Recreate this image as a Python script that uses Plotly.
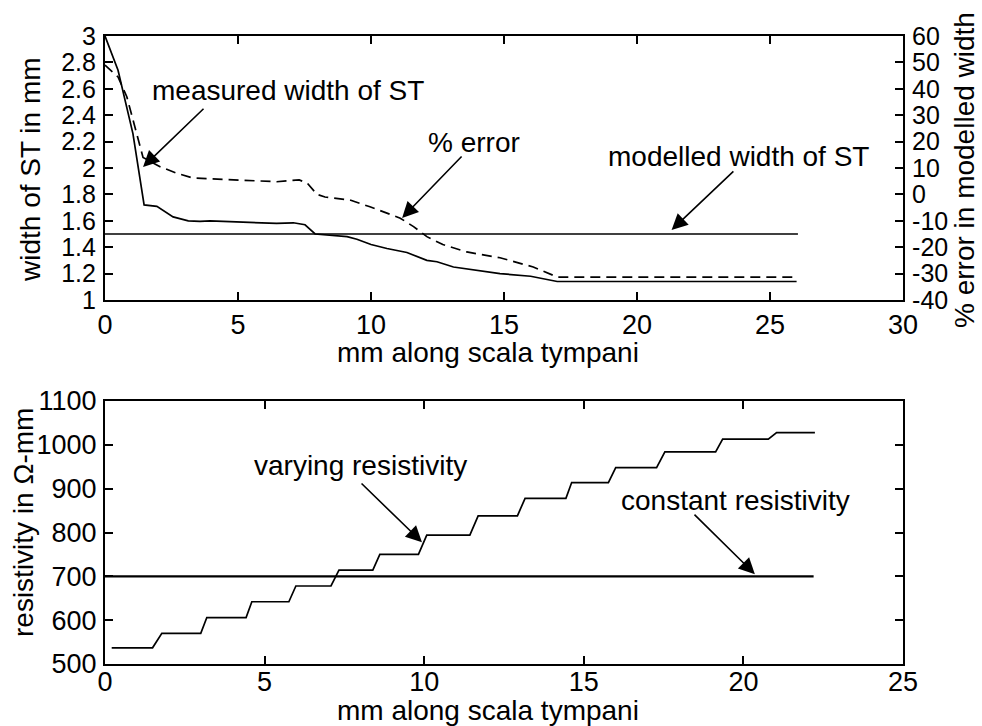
import plotly.graph_objects as go

# ---------------- data ----------------
meas_x = [0, 0.49, 1.05, 1.47, 1.95, 2.56, 3.13, 3.57, 3.95, 4.8, 6.08, 6.45, 7.08, 7.52,
          7.9, 9.1, 9.47, 10.0, 10.6, 11.35, 12.1, 12.48, 13.1, 13.8, 14.85, 16.0, 17.0, 26.0]
meas_y = [3.0, 2.74, 2.26, 1.72, 1.71, 1.63, 1.60, 1.595, 1.60, 1.595, 1.585, 1.58, 1.585, 1.57,
          1.50, 1.48, 1.46, 1.42, 1.39, 1.36, 1.30, 1.29, 1.25, 1.23, 1.20, 1.18, 1.14, 1.14]

err_x = [0, 0.49, 0.82, 1.05, 1.43, 2.07, 2.7, 3.3, 4.8, 6.45, 7.3, 7.6, 7.97, 8.27, 9.2,
         9.96, 11.1, 11.6, 12.1, 12.7, 13.6, 14.85, 16.1, 17.0, 26.0]
err_y = [49, 44.5, 37, 28, 14, 10.5, 8, 6.2, 5.5, 4.8, 5.5, 4.3, 0, -1, -2.1,
         -4.7, -9, -12.2, -16, -19, -21.8, -24, -27.5, -31.3, -31.3]

model_x = [0, 26.05]
model_y = [1.5, 1.5]

res_levels = [537, 570, 606, 642, 678, 714, 750, 794, 838, 878, 914, 948, 984, 1013, 1028]
res_starts = [0.21, 1.78, 3.19, 4.6, 5.98, 7.33, 8.61, 10.08, 11.69, 13.16, 14.62, 16.0, 17.54, 19.35, 21.04]
res_ends = [1.49, 3.0, 4.42, 5.76, 7.08, 8.39, 9.82, 11.43, 12.92, 14.44, 15.77, 17.28, 19.13, 20.78, 22.24]

const_x = [0, 22.2]
const_y = [700, 700]

top_xticks = [0, 5, 10, 15, 20, 25, 30]
top_yticks = [1, 1.2, 1.4, 1.6, 1.8, 2, 2.2, 2.4, 2.6, 2.8, 3]
err_ticks = [-40, -30, -20, -10, 0, 10, 20, 30, 40, 50, 60]
err_ticktext = ["-40", "-30", "-20", "-10", "0", "10", "20", "30", "40", "50", "60"]
bot_xticks = [0, 5, 10, 15, 20, 25]
bot_yticks = [500, 600, 700, 800, 900, 1000, 1100]

# build the staircase path from the read levels
step_x, step_y = [], []
for s, e, lv in zip(res_starts, res_ends, res_levels):
    step_x += [s, e]
    step_y += [lv, lv]

FONT = "Liberation Sans, Arial, sans-serif"
TICKF = dict(family=FONT, size=27, color="black")
TICKF_DENSE = dict(family=FONT, size=25, color="black")
TXTF = dict(family=FONT, size=28, color="black")

fig = go.Figure()
line = dict(color="black", width=1.7)
fig.add_trace(go.Scatter(x=meas_x, y=meas_y, mode="lines", line=line, xaxis="x", yaxis="y"))
fig.add_trace(go.Scatter(x=model_x, y=model_y, mode="lines", line=line, xaxis="x", yaxis="y"))
fig.add_trace(go.Scatter(x=err_x, y=err_y, mode="lines",
                         line=dict(color="black", width=1.7, dash="10px,6px"),
                         xaxis="x", yaxis="y2"))
fig.add_trace(go.Scatter(x=step_x, y=step_y, mode="lines", line=line, xaxis="x2", yaxis="y3"))
fig.add_trace(go.Scatter(x=const_x, y=const_y, mode="lines",
                         line=dict(color="black", width=2.4), xaxis="x2", yaxis="y3"))

ax_common = dict(showline=True, linecolor="black", linewidth=2.2, ticks="inside",
                 ticklen=8, tickwidth=1.6, tickcolor="black", showgrid=False,
                 zeroline=False, automargin=False)

top_dom = [1 - 300 / 726, 1 - 36 / 726]
bot_dom = [1 - 664 / 726, 1 - 401 / 726]
xdom = [105 / 982, 903 / 982]

fig.update_layout(
    width=982, height=726,
    margin=dict(l=0, r=0, t=0, b=0),
    paper_bgcolor="white", plot_bgcolor="white",
    showlegend=False,
    xaxis=dict(domain=xdom, anchor="y", range=[0, 30], tickvals=top_xticks,
               mirror="ticks", ticklabelstandoff=-1, tickfont=TICKF, **ax_common),
    yaxis=dict(domain=top_dom, anchor="x", range=[1, 3], tickvals=top_yticks,
               mirror=True, ticklabelstandoff=2, tickfont=TICKF_DENSE, **ax_common),
    yaxis2=dict(overlaying="y", side="right", anchor="x", range=[-40, 60],
                tickvals=err_ticks, ticktext=err_ticktext, ticklabelstandoff=2,
                tickfont=TICKF_DENSE, **ax_common),
    xaxis2=dict(domain=xdom, anchor="y3", range=[0, 25], tickvals=bot_xticks,
                mirror="ticks", ticklabelstandoff=-8, tickfont=TICKF, **ax_common),
    yaxis3=dict(domain=bot_dom, anchor="x2", range=[500, 1100], tickvals=bot_yticks,
                mirror="ticks", ticklabelstandoff=1, tickfont=TICKF, **ax_common),
)

ann = []
# axis titles
ann.append(dict(text="mm along scala tympani", xref="paper", yref="paper",
                x=488 / 982, y=1 - 352 / 726, showarrow=False, font=TXTF,
                xanchor="center", yanchor="middle"))
ann.append(dict(text="mm along scala tympani", xref="paper", yref="paper",
                x=488 / 982, y=1 - 710 / 726, showarrow=False, font=TXTF,
                xanchor="center", yanchor="middle"))
ann.append(dict(text="width of ST in mm", xref="paper", yref="paper",
                x=30 / 982, y=1 - 170 / 726, showarrow=False, font=TXTF, textangle=-90,
                xanchor="center", yanchor="middle"))
ann.append(dict(text="% error in modelled width", xref="paper", yref="paper",
                x=964 / 982, y=1 - 170 / 726, showarrow=False, font=TXTF, textangle=-90,
                xanchor="center", yanchor="middle"))
ann.append(dict(text="resistivity in Ω-mm", xref="paper", yref="paper",
                x=23 / 982, y=1 - 523 / 726, showarrow=False, font=TXTF, textangle=-90,
                xanchor="center", yanchor="middle"))

# labels inside plots
ann.append(dict(text="measured width of ST", xref="x", yref="y", x=6.88, y=2.59,
                showarrow=False, font=TXTF))
ann.append(dict(text="% error", xref="x", yref="y", x=13.87, y=2.19,
                showarrow=False, font=TXTF))
ann.append(dict(text="modelled width of ST", xref="x", yref="y", x=23.8, y=2.09,
                showarrow=False, font=TXTF))
ann.append(dict(text="varying resistivity", xref="x2", yref="y3", x=7.99, y=952,
                showarrow=False, font=TXTF))
ann.append(dict(text="constant resistivity", xref="x2", yref="y3", x=19.74, y=874,
                showarrow=False, font=TXTF))

# arrows (head at x,y ; tail at ax,ay)
arrows = [
    ("x", "y", 1.43, 2.008, 3.76, 2.46),
    ("x", "y", 11.17, 1.621, 13.46, 2.098),
    ("x", "y", 21.3, 1.53, 23.68, 1.985),
    ("x2", "y3", 9.93, 778, 7.99, 915),
    ("x2", "y3", 20.36, 705, 18.42, 844),
]
for xr, yr, hx, hy, tx, ty in arrows:
    ann.append(dict(text="", xref=xr, yref=yr, x=hx, y=hy, axref=xr, ayref=yr,
                    ax=tx, ay=ty, showarrow=True, arrowhead=2, arrowsize=2,
                    arrowwidth=1.6, arrowcolor="black", standoff=0, startstandoff=0))

fig.update_layout(annotations=ann)
fig.write_html("out.html")
